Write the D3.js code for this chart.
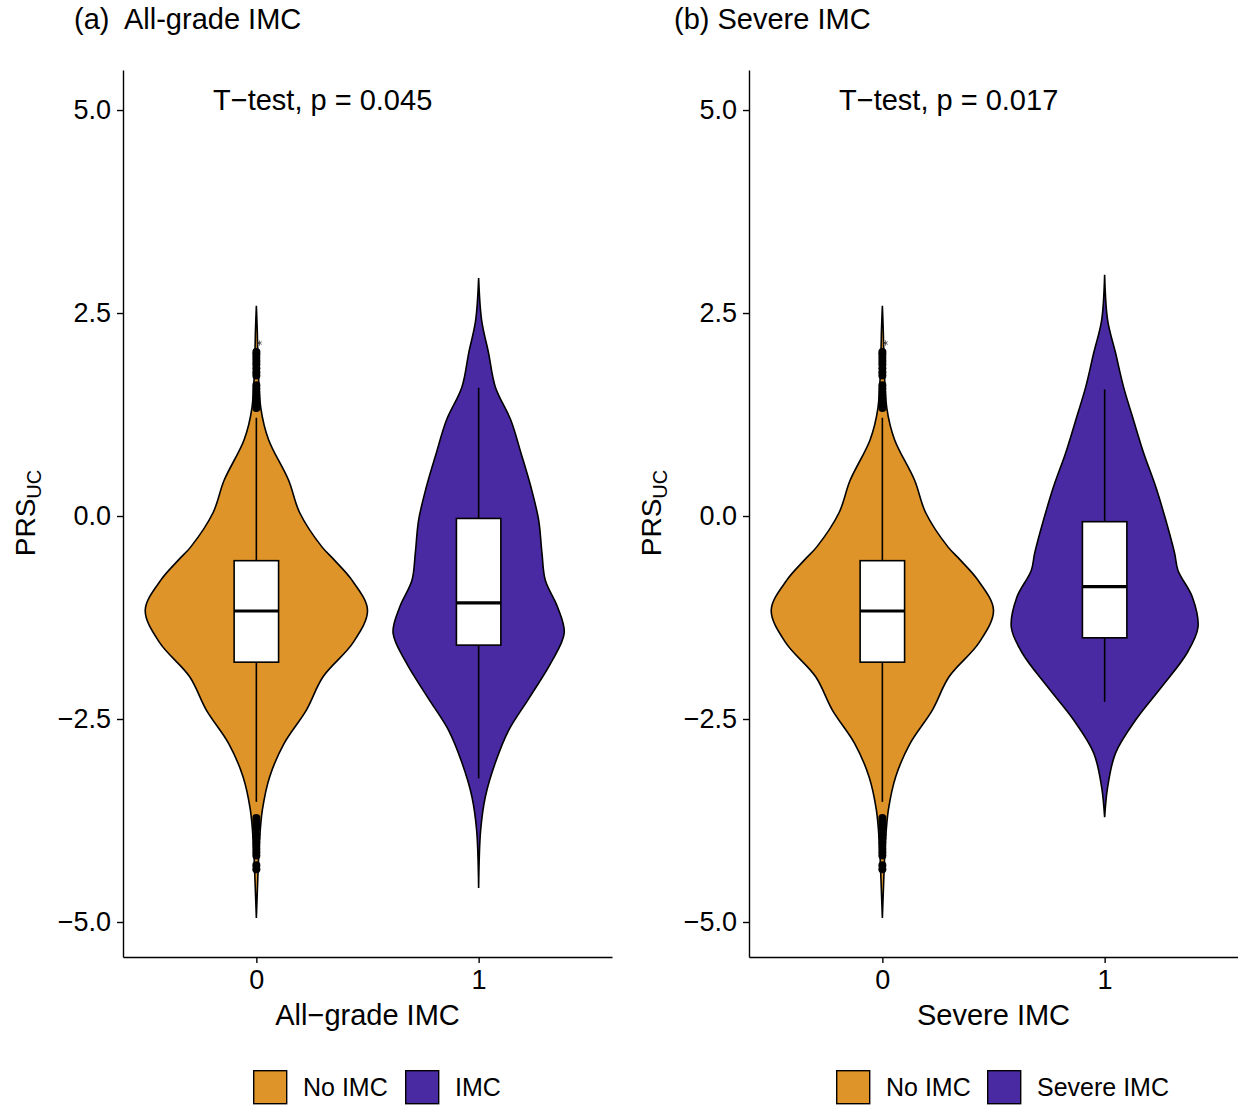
<!DOCTYPE html>
<html>
<head>
<meta charset="utf-8">
<script src="https://cdn.jsdelivr.net/npm/d3@7"></script>
<style>
  body { margin: 0; background: #fff; }
  text { font-family: "Liberation Sans", Arial, sans-serif; fill: #000; }
</style>
</head>
<body>
<script>
// data
var categories = ["0", "1"];
var yTicks = [-5, -2.5, 0, 2.5, 5];

// violin outlines: PRS value and relative density (1 = widest)
var noImcY       = [2.59, 2.29, 2.02, 1.33, 0.94, 0.44, 0.04, -0.38, -0.54, -0.79, -1.16, -1.56, -1.98, -2.39, -2.80, -3.21, -3.62, -4.03, -4.50, -4.95];
var noImcDensity = [0, 0.008, 0.013, 0.04, 0.11, 0.29, 0.39, 0.59, 0.70, 0.86, 1.0, 0.87, 0.60, 0.45, 0.25, 0.12, 0.054, 0.027, 0.012, 0];

var imcY       = [2.93, 2.41, 2.01, 1.59, 1.18, 0.78, 0.36, -0.05, -0.46, -0.79, -1.12, -1.44, -1.81, -2.23, -2.64, -3.04, -3.46, -3.87, -4.58];
var imcDensity = [0, 0.027, 0.089, 0.15, 0.29, 0.38, 0.47, 0.54, 0.57, 0.60, 0.71, 0.77, 0.65, 0.46, 0.27, 0.15, 0.06, 0.018, 0];

var severeY       = [2.97, 2.41, 2.01, 1.59, 1.18, 0.78, 0.36, -0.05, -0.46, -0.67, -1.00, -1.37, -1.69, -2.11, -2.51, -2.92, -3.34, -3.71];
var severeDensity = [0, 0.027, 0.098, 0.17, 0.26, 0.35, 0.46, 0.55, 0.63, 0.66, 0.79, 0.84, 0.74, 0.51, 0.28, 0.098, 0.027, 0];

// box stats: lower whisker, q1, median, q3, upper whisker
var noImcBox  = [-3.52, -1.80, -1.17, -0.55, 1.21];
var imcBox    = [-3.23, -1.59, -1.07, -0.03, 1.58];
var severeBox = [-2.29, -1.50, -0.87, -0.07, 1.56];

var noImcOutliers = [1.33, 1.37, 1.41, 1.45, 1.49, 1.53, 1.57, 1.61, 1.73, 1.77, 1.82, 1.87, 1.91, 1.95, 1.99, 2.02,
                     -3.72, -3.76, -3.80, -3.85, -3.93, -3.97, -4.02, -4.06, -4.10, -4.14, -4.18, -4.30, -4.35];
var noImcStar = [2.13];

var pValues = ["0.045", "0.017"];
var panelTitles = ["(a)\u00a0 All-grade IMC", "(b) Severe IMC"];
var xTitles = ["All\u2212grade IMC", "Severe IMC"];
var legendLabels = [["No IMC", "IMC"], ["No IMC", "Severe IMC"]];
var fills = ["#DF9429", "#4A2AA3"];

var svg = d3.select("body").append("svg").attr("width", 1238).attr("height", 1106);

var y = d3.scaleLinear().domain([-5.431, 5.493]).range([957, 70]);

var panels = [
  { x0: 123, x1: 612, titleX: 74, legendX: 253, groups: [
      { y: noImcY, d: noImcDensity, box: noImcBox, out: noImcOutliers, star: noImcStar },
      { y: imcY, d: imcDensity, box: imcBox, out: [], star: [] } ] },
  { x0: 749, x1: 1238, titleX: 674, legendX: 836, groups: [
      { y: noImcY, d: noImcDensity, box: noImcBox, out: noImcOutliers, star: noImcStar },
      { y: severeY, d: severeDensity, box: severeBox, out: [], star: [] } ] }
];

panels.forEach(function(p, pi) {
  var x = d3.scalePoint().domain(categories).range([p.x0, p.x1]).padding(0.6);
  var w = d3.scaleLinear().domain([0, 1]).range([0, x.step() * 0.5]);
  var g = svg.append("g");

  p.groups.forEach(function(grp, gi) {
    var cx = x(categories[gi]);
    var pts = grp.y.map(function(v, i){ return [v, grp.d[i]]; });
    var area = d3.area()
      .y(function(d){ return y(d[0]); })
      .x0(function(d){ return cx - w(d[1]); })
      .x1(function(d){ return cx + w(d[1]); })
      .curve(d3.curveCatmullRom);
    g.append("path").attr("d", area(pts))
      .attr("fill", fills[gi]).attr("stroke", "#000").attr("stroke-width", 1.6);

    g.selectAll("circle.o" + gi).data(grp.out).enter().append("circle")
      .attr("class", "o" + gi)
      .attr("cx", cx).attr("cy", function(d){ return y(d); })
      .attr("r", 4).attr("fill", "#000");

    g.selectAll("path.s" + gi).data(grp.star).enter().append("path")
      .attr("class", "s" + gi)
      .attr("d", d3.symbol(d3.symbolAsterisk, 20))
      .attr("transform", function(d){ return "translate(" + (cx + 3) + "," + y(d) + ")"; })
      .attr("fill", "none").attr("stroke", "#333").attr("stroke-width", 0.8);

    var b = grp.box, bw = x.step() * 0.2;
    g.append("line").attr("x1", cx).attr("x2", cx).attr("y1", y(b[4])).attr("y2", y(b[3]))
      .attr("stroke", "#000").attr("stroke-width", 1.6);
    g.append("line").attr("x1", cx).attr("x2", cx).attr("y1", y(b[1])).attr("y2", y(b[0]))
      .attr("stroke", "#000").attr("stroke-width", 1.6);
    g.append("rect").attr("x", cx - bw / 2).attr("width", bw)
      .attr("y", y(b[3])).attr("height", y(b[1]) - y(b[3]))
      .attr("fill", "#fff").attr("stroke", "#000").attr("stroke-width", 1.6);
    g.append("line").attr("x1", cx - bw / 2).attr("x2", cx + bw / 2)
      .attr("y1", y(b[2])).attr("y2", y(b[2]))
      .attr("stroke", "#000").attr("stroke-width", 3.2);
  });

  // axes
  var ya = g.append("g").attr("transform", "translate(" + p.x0 + ",0)")
    .call(d3.axisLeft(y).tickValues(yTicks).tickFormat(d3.format(".1f")).tickSize(6).tickSizeOuter(0).tickPadding(6));
  var xa = g.append("g").attr("transform", "translate(0,957)")
    .call(d3.axisBottom(x).tickSize(6).tickSizeOuter(0).tickPadding(7));
  [ya, xa].forEach(function(a) {
    a.selectAll("path, line").attr("stroke", "#000").attr("stroke-width", 1.4);
    a.selectAll("text").attr("font-size", 27).attr("fill", "#000")
      .attr("font-family", "'Liberation Sans', Arial, sans-serif");
  });

  // y title with subscript
  var yt = g.append("text").attr("transform", "translate(" + (p.x0 - 88) + ",513) rotate(-90)")
    .attr("text-anchor", "middle").attr("font-size", 28);
  yt.append("tspan").text("PRS");
  yt.append("tspan").attr("font-size", 20).attr("dy", 6).text("UC");

  g.append("text").attr("x", (p.x0 + p.x1) / 2).attr("y", 1025)
    .attr("text-anchor", "middle").attr("font-size", 29).text(xTitles[pi]);

  g.append("text").attr("x", p.titleX).attr("y", 29).attr("font-size", 29).text(panelTitles[pi]);

  g.append("text").attr("x", p.x0 + 90).attr("y", 110).attr("font-size", 29)
    .text("T\u2212test, p = " + pValues[pi]);

  // legend
  var offs = [0, pi === 0 ? 152 : 151];
  legendLabels[pi].forEach(function(lab, i) {
    g.append("rect").attr("x", p.legendX + offs[i] + 0.7).attr("y", 1070.7).attr("width", 33).attr("height", 33)
      .attr("fill", fills[i]).attr("stroke", "#000").attr("stroke-width", 1.4);
    g.append("text").attr("x", p.legendX + offs[i] + 50).attr("y", 1096).attr("font-size", 25).text(lab);
  });
});
</script>
</body>
</html>
